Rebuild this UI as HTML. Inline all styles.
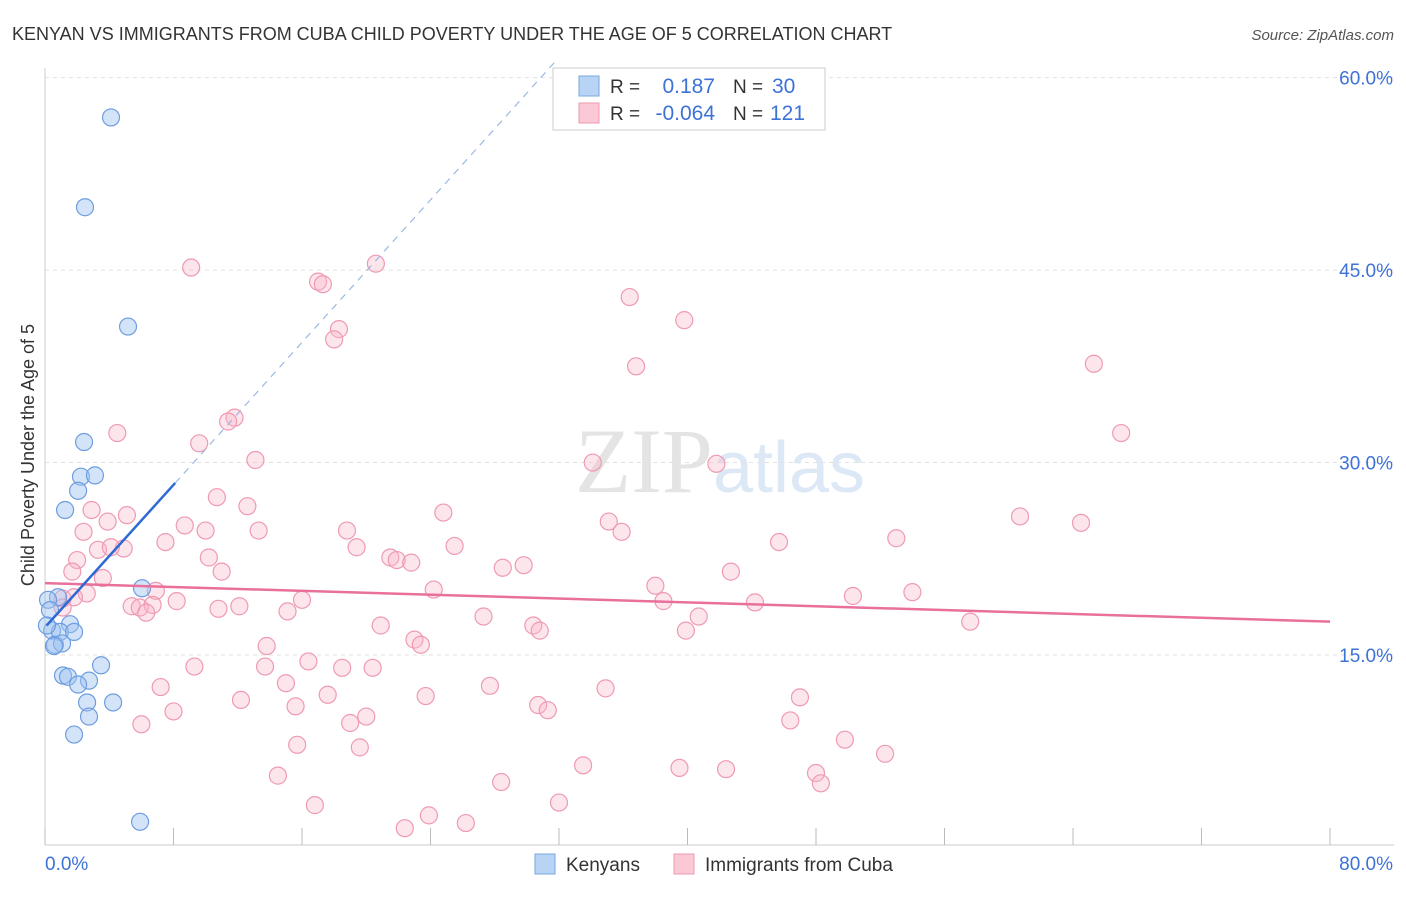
<!DOCTYPE html>
<html><head><meta charset="utf-8"><style>
body{margin:0;background:#fff;font-family:"Liberation Sans",sans-serif;}
svg text{font-family:"Liberation Sans",sans-serif;}
</style></head><body>
<svg id="chart" width="1406" height="892" xmlns="http://www.w3.org/2000/svg">
<text x="12" y="40" font-size="18" fill="#333">KENYAN VS IMMIGRANTS FROM CUBA CHILD POVERTY UNDER THE AGE OF 5 CORRELATION CHART</text>
<text x="1394" y="40" font-size="15" fill="#555" text-anchor="end" font-style="italic">Source: ZipAtlas.com</text>
<text x="720" y="492" font-size="92" fill="#e4e4e4" text-anchor="middle" font-family="Liberation Serif" style="font-family:'Liberation Serif',serif">ZIP<tspan fill="#dce8f6" font-family="Liberation Sans" style="font-family:'Liberation Sans',sans-serif" font-size="72">atlas</tspan></text>
<g id="grid"></g>
<g id="axes"></g>
<g id="marks"></g>
<text transform="translate(34,455) rotate(-90)" font-size="18" fill="#333" text-anchor="middle">Child Poverty Under the Age of 5</text>
<g>
<rect x="553" y="68" width="272" height="62" fill="#fff" stroke="#ccc"/>
<rect x="579" y="76" width="20" height="20" fill="#b8d4f5" stroke="#7aa7e0"/>
<rect x="579" y="103" width="20" height="20" fill="#fbc8d6" stroke="#ee9ab2"/>
<text x="610" y="93" font-size="19" fill="#333">R =</text>
<text x="715" y="93" font-size="21" fill="#3d72d6" text-anchor="end">0.187</text>
<text x="733" y="93" font-size="19" fill="#333">N =</text>
<text x="772" y="93" font-size="21" fill="#3d72d6">30</text>
<text x="610" y="120" font-size="19" fill="#333">R =</text>
<text x="715" y="120" font-size="21" fill="#3d72d6" text-anchor="end">-0.064</text>
<text x="733" y="120" font-size="19" fill="#333">N =</text>
<text x="770" y="120" font-size="21" fill="#3d72d6">121</text>
</g>
<g>
<rect x="535" y="854" width="20" height="20" fill="#b8d4f5" stroke="#7aa7e0"/>
<text x="566" y="871" font-size="19" fill="#333">Kenyans</text>
<rect x="674" y="854" width="20" height="20" fill="#fbc8d6" stroke="#ee9ab2"/>
<text x="705" y="871" font-size="19" fill="#333">Immigrants from Cuba</text>
</g>
</svg>
<script>
const yTicks=[15,30,45,60];
const yTickLabels=["15.0%","30.0%","45.0%","60.0%"];
const xTicks=[0,8,16,24,32,40,48,56,64,72,80];
const xEndLabels=["0.0%","80.0%"];
const kenyanX=[4.11,2.49,5.17,2.43,2.24,3.11,2.06,1.25,6.04,0.81,0.19,0.44,1.56,0.93,1.81,0.62,1.06,0.56,3.49,1.12,1.43,2.74,2.06,4.24,2.62,2.74,1.81,5.92,0.31,0.12];
const kenyanY=[56.9,49.9,40.6,31.6,28.9,29.0,27.8,26.3,20.2,19.5,19.3,16.9,17.4,16.8,16.8,15.8,15.9,15.7,14.2,13.4,13.3,13.0,12.7,11.3,11.3,10.2,8.8,2.0,18.5,17.3];
const cubaX=[9.1,17.0,17.3,20.6,36.4,39.8,18.3,18.0,36.8,65.3,11.8,11.4,4.5,9.6,67.0,13.1,34.1,41.8,10.7,12.6,2.9,5.1,3.9,24.8,35.1,8.7,10.0,13.3,18.8,60.7,64.5,35.9,2.4,7.5,45.7,53.0,3.3,4.9,4.1,19.4,25.5,2.0,10.2,21.5,21.9,22.8,28.5,29.8,1.7,11.0,42.7,3.6,38.0,24.2,2.6,6.9,54.0,50.3,1.1,1.8,8.2,38.5,5.4,5.9,6.7,12.1,10.8,44.2,16.0,15.1,1.1,6.3,27.3,40.7,57.6,20.9,30.4,30.8,39.9,23.0,23.4,13.8,16.4,9.3,13.7,18.5,20.4,15.0,7.2,27.7,34.9,12.2,17.6,23.7,47.0,15.6,8.0,30.7,31.3,20.0,19.0,6.0,46.4,15.7,49.8,19.6,52.3,33.5,14.5,39.5,42.4,28.4,48.0,48.3,32.0,16.8,23.9,26.2,22.4];
const cubaY=[45.2,44.1,43.9,45.5,42.9,41.1,40.4,39.6,37.5,37.7,33.5,33.2,32.3,31.5,32.3,30.2,30.0,29.9,27.3,26.6,26.3,25.9,25.4,26.1,25.4,25.1,24.7,24.7,24.7,25.8,25.3,24.6,24.6,23.8,23.8,24.1,23.2,23.3,23.4,23.4,23.5,22.4,22.6,22.6,22.4,22.2,21.8,22.0,21.5,21.5,21.5,21.0,20.4,20.1,19.8,20.0,19.9,19.6,19.4,19.5,19.2,19.2,18.8,18.7,18.9,18.8,18.6,19.1,19.3,18.4,18.7,18.3,18.0,18.0,17.6,17.3,17.3,16.9,16.9,16.2,15.8,15.7,14.5,14.1,14.1,14.0,14.0,12.8,12.5,12.6,12.4,11.5,11.9,11.8,11.7,11.0,10.6,11.1,10.7,10.2,9.7,9.6,9.9,8.0,8.4,7.8,7.3,6.4,5.6,6.2,6.1,5.1,5.8,5.0,3.5,3.3,2.5,1.9,1.5];
const kenyanTrend=[[0.1,17.3],[8.1,28.4]];
const kenyanDash=[[8.1,28.4],[31.8,61.3]];
const cubaTrend=[[0,20.6],[80,17.6]];

const NS="http://www.w3.org/2000/svg";
function sx(v){return 45+v/80*1285;}
function sy(v){return 655-(v-15)*12.83;}
function mk(tag,attrs,parent){const e=document.createElementNS(NS,tag);for(const k in attrs)e.setAttribute(k,attrs[k]);document.getElementById(parent).appendChild(e);return e;}
yTicks.forEach((t,i)=>{
 const g=mk('line',{x1:45,x2:1394,y1:sy(t),y2:sy(t),stroke:'#e2e2e2','stroke-dasharray':'4,4'},'grid');
 
 
 const l=mk('text',{x:1393,y:sy(t)+7,'font-size':19,fill:'#3d72d6','text-anchor':'end'},'axes');
 l.textContent=yTickLabels[i];
 
 
});
const xa=mk('line',{x1:45,x2:1394,y1:845,y2:845,stroke:'#ccc'},'axes');


const ya=mk('line',{x1:45,x2:45,y1:68,y2:845,stroke:'#ccc'},'axes');


xTicks.forEach(t=>{
 const e=mk('line',{x1:sx(t),x2:sx(t),y1:828,y2:845,stroke:'#bbb'},'axes');
 
 
});
[[0,'start',45],[80,'end',1393]].forEach((d,i)=>{
 const e=mk('text',{x:d[2],y:870,'font-size':19,fill:'#3d72d6','text-anchor':d[1]},'axes');
 e.textContent=xEndLabels[i];
 
 
});
cubaX.forEach((x,i)=>{
 const c=mk('circle',{cx:sx(x),cy:sy(cubaY[i]),r:8.5,fill:'rgba(248,180,200,0.35)',stroke:'#ee9ab2','stroke-width':1.2},'marks');
 
 
});
kenyanX.forEach((x,i)=>{
 const c=mk('circle',{cx:sx(x),cy:sy(kenyanY[i]),r:8.5,fill:'rgba(160,195,240,0.45)',stroke:'#6e9de0','stroke-width':1.2},'marks');
 
 
});
const ct=mk('line',{x1:sx(cubaTrend[0][0]),y1:sy(cubaTrend[0][1]),x2:sx(cubaTrend[1][0]),y2:sy(cubaTrend[1][1]),stroke:'#e8709a','stroke-width':2.5},'marks');


const kd=mk('line',{x1:sx(kenyanDash[0][0]),y1:sy(kenyanDash[0][1]),x2:sx(kenyanDash[1][0]),y2:sy(kenyanDash[1][1]),stroke:'#9bb8e3','stroke-width':1.2,'stroke-dasharray':'7,6'},'marks');


const kt=mk('line',{x1:sx(kenyanTrend[0][0]),y1:sy(kenyanTrend[0][1]),x2:sx(kenyanTrend[1][0]),y2:sy(kenyanTrend[1][1]),stroke:'#2e6ad4','stroke-width':2.5},'marks');


</script>
</body></html>
